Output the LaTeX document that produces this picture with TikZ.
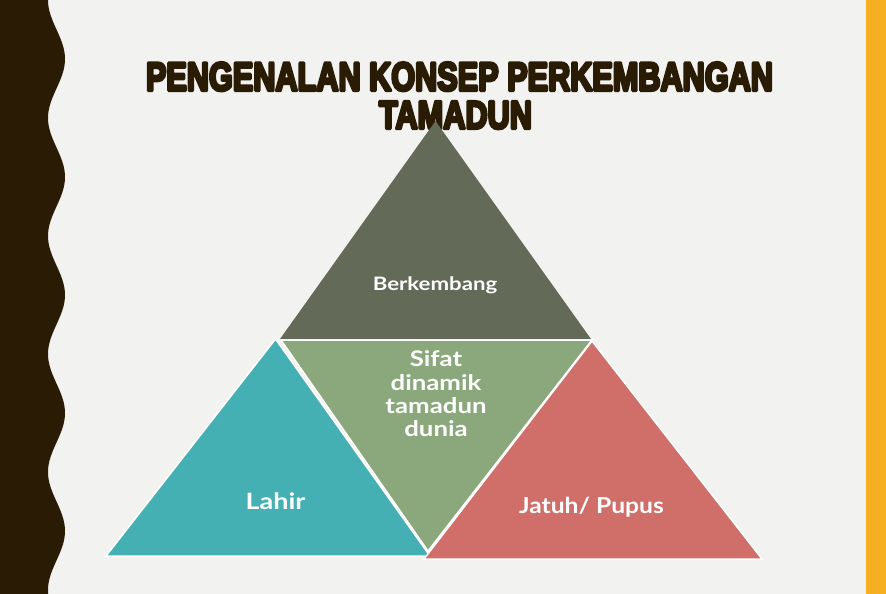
\documentclass[tikz,border=0pt]{standalone}
\usepackage{fontspec}
\setmainfont{Lato}
\newfontfamily\titlefont[UprightFont={* Bold}, FakeBold=8]{Liberation Sans}
\usepackage{graphicx}
\definecolor{bandbrown}{HTML}{2A1B04}
\definecolor{bgpaper}{HTML}{F2F2F0}
\definecolor{stripyellow}{HTML}{F7AF22}
\definecolor{topgray}{HTML}{636A58}
\definecolor{midgreen}{HTML}{8AA87B}
\definecolor{tealtri}{HTML}{45B0B4}
\definecolor{redtri}{HTML}{D06E69}
\tikzset{
  tri/.style={draw=white, line width=1.5pt, line join=miter},
  lbl/.style={text=white, font=\bfseries, inner sep=0pt},
  ttl/.style={text=bandbrown, inner sep=0pt}
}
\begin{document}
\begin{tikzpicture}[x=1pt, y=-1pt]
\useasboundingbox (0,0) rectangle (886,594);
\fill[bgpaper] (0,0) rectangle (886,594);
\fill[stripyellow] (866,0) rectangle (886,594);
\fill[bandbrown] (0,0) -- plot[domain=0:594, samples=240, variable=\t] ({56.5-8.5*cos(3.050847*\t)}, \t) -- (0,594) -- cycle;

% title
\node[ttl, anchor=base] (t1) at (459.5,90.5) {\special{pdf:literal direct 1 j 1.5 M}\titlefont\resizebox{627pt}{28pt}{PENGENALAN KONSEP PERKEMBANGAN}};
\node[ttl, anchor=base] (t2) at (455.5,128.5) {\special{pdf:literal direct 1 j 1.5 M}\titlefont\resizebox{153pt}{27pt}{TAMADUN}};

% triangles
\coordinate (ta) at (435.5,121);
\coordinate (tb) at (280,339);
\coordinate (tc) at (591,339);
\coordinate (mb) at (281,340);
\coordinate (mc) at (592,340);
\coordinate (md) at (428,551);
\coordinate (la) at (275.5,339);
\coordinate (lb) at (106,556);
\coordinate (lc) at (430,556);
\coordinate (ra) at (592,341);
\coordinate (rb) at (424,559);
\coordinate (rc) at (762,559);
\fill[topgray] (ta) -- (tb) -- (tc) -- cycle;
\filldraw[tri, fill=midgreen] (mb) -- (mc) -- (md) -- cycle;
\filldraw[tri, fill=tealtri] (la) -- (lb) -- (lc) -- cycle;
\filldraw[tri, fill=redtri] (ra) -- (rb) -- (rc) -- cycle;

% labels
\node[lbl, anchor=base, font=\bfseries\fontsize{18.5}{20}\selectfont] (berk) at (435,290) {\scalebox{1.2}[1]{Berkembang}};
\node[lbl, anchor=center, font=\bfseries\fontsize{21.5}{23.3}\selectfont] (sifat) at (436,397) {\scalebox{1.2}[1]{\begin{tabular}{@{}c@{}}Sifat\\dinamik\\tamadun\\dunia\end{tabular}}};
\node[lbl, anchor=base, font=\bfseries\fontsize{22.5}{24}\selectfont] (lahir) at (275.5,509) {\scalebox{1.2}[1]{Lahir}};
\node[lbl, anchor=base, font=\bfseries\fontsize{22}{24}\selectfont] (jatuh) at (591.5,513) {\scalebox{1.12}[1]{Jatuh/ Pupus}};
\end{tikzpicture}
\end{document}
